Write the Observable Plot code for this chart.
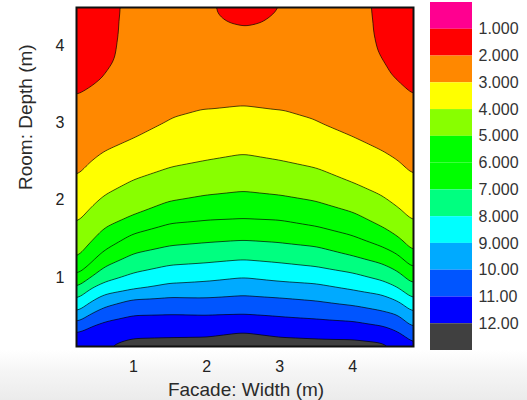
<!DOCTYPE html>
<html>
<head>
<meta charset="utf-8">
<script src="https://cdn.jsdelivr.net/npm/d3@7"></script>
<script src="https://cdn.jsdelivr.net/npm/@observablehq/plot@0.6"></script>
<style>
  html, body { margin: 0; padding: 0; }
  body {
    width: 527px; height: 400px; overflow: hidden;
    background: linear-gradient(to bottom, #ffffff 0px, #ffffff 350px, #f5f5f5 372px, #ebebeb 400px);
    font-family: "Liberation Sans", Arial, sans-serif;
  }
  #wrap { position: relative; width: 527px; height: 400px; }
  #main { position: absolute; left: 0; top: 0; }
  #legend { position: absolute; left: 420px; top: 0; }
</style>
</head>
<body>
<div id="wrap"><div id="main"></div><div id="legend"></div></div>
<script>
// ---- data (metres) ----
const levels = [1, 2, 3, 4, 5, 6, 7, 8, 9, 10, 11, 12];
const bandColors = ["#ff0090", "#ff0000", "#ff8800", "#ffff00", "#88ff00", "#00ff00", "#00ff00",
                    "#00ff80", "#00ffff", "#00aaff", "#0055ff", "#0000ff", "#404040"];
const legendLabels = ["1.000", "2.000", "3.000", "4.000", "5.000", "6.000", "7.000",
                      "8.000", "9.000", "10.00", "11.00", "12.00"];
const xTicks = [1, 2, 3, 4];
const yTicks = [1, 2, 3, 4];

// depth (m) at which each contour level crosses the sampled columns
const columnX = [0.22, 0.41, 0.6, 1.0, 1.5, 2.0, 2.5, 3.0, 3.5, 4.0, 4.4, 4.62, 4.83];
const depth3  = [2.29, 2.48, 2.62, 2.79, 3.03, 3.16, 3.21, 3.15, 3.01, 2.81, 2.63, 2.50, 2.31];
const depth4  = [1.69, 1.89, 2.06, 2.26, 2.42, 2.51, 2.59, 2.51, 2.41, 2.22, 2.05, 1.90, 1.71];
const depth5  = [1.23, 1.44, 1.63, 1.80, 1.98, 2.06, 2.11, 2.06, 1.98, 1.84, 1.65, 1.52, 1.32];
const depth6  = [1.03, 1.18, 1.35, 1.57, 1.70, 1.74, 1.76, 1.74, 1.66, 1.54, 1.40, 1.30, 1.12];
const depth7  = [0.87, 1.00, 1.14, 1.31, 1.41, 1.45, 1.48, 1.45, 1.40, 1.28, 1.18, 1.08, 0.91];
const depth8  = [0.72, 0.86, 0.94, 1.06, 1.16, 1.19, 1.23, 1.19, 1.14, 1.06, 0.96, 0.87, 0.72];
const depth9  = [0.55, 0.68, 0.78, 0.84, 0.92, 0.95, 1.00, 0.95, 0.92, 0.84, 0.78, 0.70, 0.55];
const depth10 = [0.42, 0.53, 0.62, 0.73, 0.75, 0.74, 0.77, 0.74, 0.70, 0.64, 0.57, 0.52, 0.35];
const depth11 = [0.31, 0.38, 0.44, 0.52, 0.53, 0.52, 0.53, 0.50, 0.47, 0.44, 0.38, 0.30, 0.16];
const depth12 = [null, null, null, 0.20, 0.21, 0.22, 0.28, 0.22, 0.20, 0.19, 0.16, null, null];

// level-2 (red) boundaries near the back wall
const redLeftX  = [0.82, 0.78, 0.725, 0.59, 0.41, 0.22];
const redLeftY  = [4.49, 4.16, 3.77, 3.55, 3.44, 3.33];
const redRightX = [4.27, 4.31, 4.38, 4.51, 4.69, 4.83];
const redRightY = [4.49, 4.16, 3.85, 3.59, 3.46, 3.33];
const redMidX   = [2.09, 2.16, 2.30, 2.53, 2.76, 2.90, 3.01];
const redMidY   = [4.49, 4.38, 4.29, 4.24, 4.29, 4.38, 4.49];

// values along the back wall (top) and the facade (bottom)
const topX      = [0.22, 0.6, 1.0, 1.5, 2.0, 2.5, 3.5, 4.0, 4.4, 4.83];
const topValue  = [1.5, 1.75, 2.2, 2.35, 2.15, 1.8, 2.25, 2.15, 1.85, 1.5];
const bottomX     = [0.22, 0.6, 1.0, 1.5, 2.0, 2.5, 3.0, 3.5, 4.0, 4.4, 4.62, 4.83];
const bottomValue = [11.5, 12.0, 12.5, 12.6, 12.6, 12.9, 12.6, 12.5, 12.5, 12.3, 12.0, 11.2];

const xDomain = [0.22, 4.83];
const yDomain = [0.11, 4.49];

// ---- build the sample table ----
const depthByLevel = [[3, depth3], [4, depth4], [5, depth5], [6, depth6], [7, depth7],
                      [8, depth8], [9, depth9], [10, depth10], [11, depth11], [12, depth12]];
const points = [];
for (const [lv, arr] of depthByLevel) {
  arr.forEach((d, i) => { if (d != null) points.push({x: columnX[i], y: d, value: lv}); });
}
redLeftX.forEach((x, i) => points.push({x, y: redLeftY[i], value: 2}));
redRightX.forEach((x, i) => points.push({x, y: redRightY[i], value: 2}));
redMidX.forEach((x, i) => points.push({x, y: redMidY[i], value: 2}));
topX.forEach((x, i) => points.push({x, y: yDomain[1], value: topValue[i]}));
bottomX.forEach((x, i) => points.push({x, y: yDomain[0], value: bottomValue[i]}));

const font = "'Liberation Sans', Arial, sans-serif";

const main = Plot.plot({
  width: 527,
  height: 400,
  marginLeft: 76,
  marginRight: 114,
  marginTop: 7,
  marginBottom: 54,
  style: {background: "transparent", fontFamily: font, fontSize: "16px", color: "#222"},
  x: {domain: xDomain},
  y: {domain: yDomain},
  color: {type: "threshold", domain: levels, range: bandColors},
  marks: [
    Plot.contour(points, {
      x: "x", y: "y", fill: "value",
      interpolate: "barycentric",
      thresholds: levels,
      x1: xDomain[0], x2: xDomain[1], y1: yDomain[0], y2: yDomain[1],
      pixelSize: 1, blur: 4,
      stroke: "#000", strokeWidth: 0.8, strokeOpacity: 0.85
    }),
    Plot.frame({stroke: "#111", strokeWidth: 2}),
    Plot.axisX({ticks: xTicks, tickSize: 0, tickPadding: 14, fontSize: 16, label: null, tickFormat: d => d}),
    Plot.axisY({ticks: yTicks, tickSize: 0, tickPadding: 12, fontSize: 16, label: null, tickFormat: d => d}),
    Plot.text(["Facade: Width (m)"], {frameAnchor: "bottom", dy: 43, dx: 1, fontSize: 19, fill: "#2a2a2a", lineAnchor: "middle"}),
    Plot.text(["Room: Depth (m)"], {frameAnchor: "left", rotate: -90, dx: -51, dy: 13, fontSize: 19, fill: "#2a2a2a", lineAnchor: "middle"})
  ]
});
document.getElementById("main").appendChild(main);

const legend = Plot.plot({
  width: 107,
  height: 360,
  margin: 0,
  style: {background: "transparent", fontFamily: font, overflow: "visible"},
  x: {domain: [0, 1], range: [10, 52], axis: null},
  y: {domain: [0, bandColors.length], range: [2, 350], axis: null},
  color: {type: "identity"},
  marks: [
    Plot.rect(bandColors, {x1: 0, x2: 1, y1: (d, i) => i, y2: (d, i) => i + 1, fill: d => d}),
    Plot.text(legendLabels, {x: 1, y: (d, i) => i + 1, text: d => d, dx: 6, textAnchor: "start", fontSize: 16, fill: "#333"})
  ]
});
document.getElementById("legend").appendChild(legend);
</script>
</body>
</html>
